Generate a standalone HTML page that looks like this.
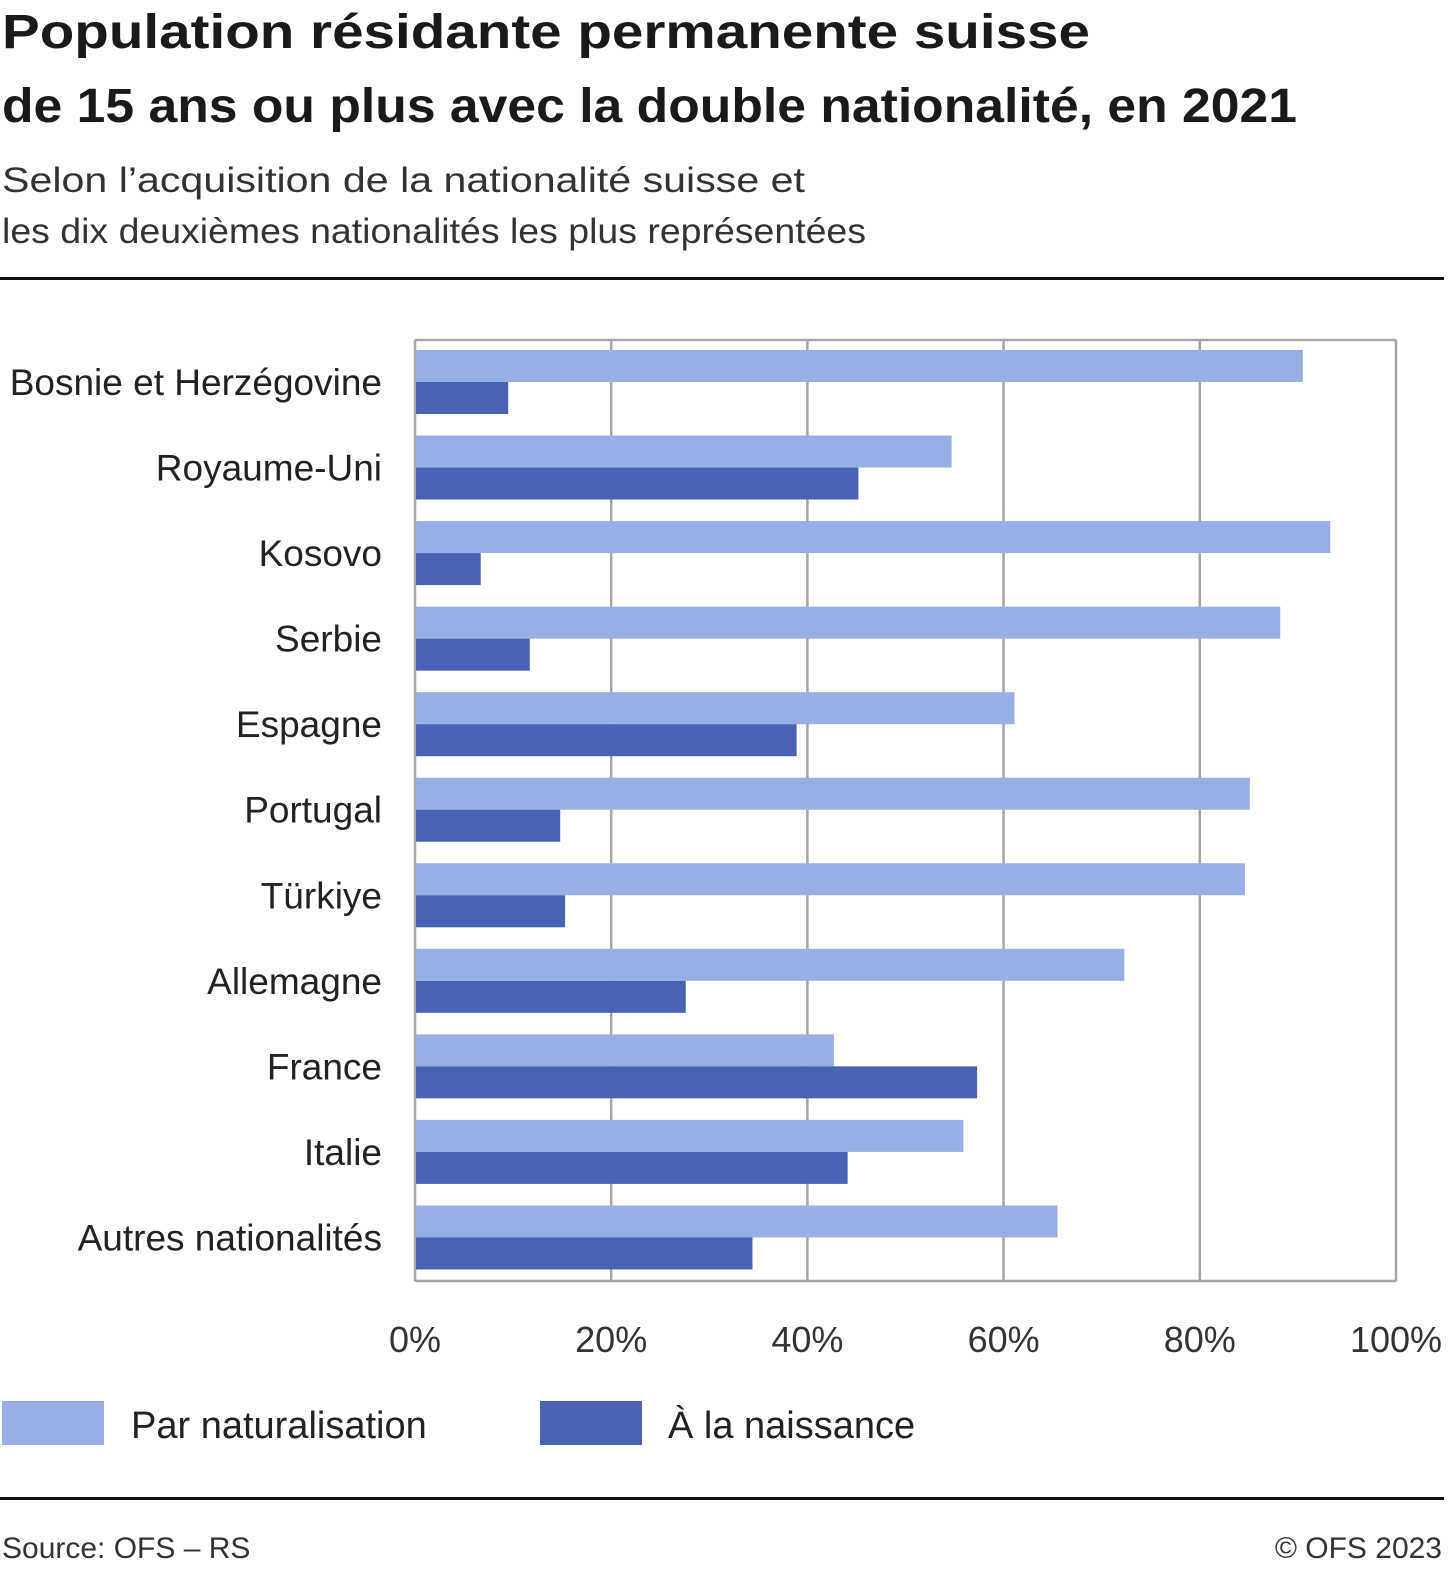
<!DOCTYPE html>
<html><head><meta charset="utf-8"><style>
html,body{margin:0;padding:0;background:#fff;overflow:hidden;width:1456px;height:1581px;}
svg{display:block;font-family:"Liberation Sans",sans-serif;}
</style></head><body>
<svg id="chart" width="1456" height="1581" viewBox="0 0 1456 1581">
<text x="2" y="48" font-size="48" font-weight="bold" fill="#1a1a1a" textLength="1088" lengthAdjust="spacingAndGlyphs">Population résidante permanente suisse</text>
<text x="2" y="122" font-size="48" font-weight="bold" fill="#1a1a1a" textLength="1295" lengthAdjust="spacingAndGlyphs">de 15 ans ou plus avec la double nationalité, en 2021</text>
<text x="2" y="192" font-size="35" fill="#333" textLength="803" lengthAdjust="spacingAndGlyphs">Selon l’acquisition de la nationalité suisse et</text>
<text x="2" y="243" font-size="35" fill="#333" textLength="864" lengthAdjust="spacingAndGlyphs">les dix deuxièmes nationalités les plus représentées</text>
<rect x="0" y="277" width="1444" height="3" fill="#111"/>
<g id="grid"></g>
<g id="bars"></g>
<g id="labels"></g>
<g id="ticks"></g>
<rect x="2" y="1401" width="102" height="44" fill="#9aaee6"/>
<text x="131" y="1438" font-size="38" fill="#222">Par naturalisation</text>
<rect x="540" y="1401" width="102" height="44" fill="#4a62b4"/>
<text x="668" y="1438" font-size="38" fill="#222">À la naissance</text>
<rect x="0" y="1497" width="1444" height="3" fill="#111"/>
<text x="2" y="1558" font-size="30" fill="#333">Source: OFS – RS</text>
<text x="1442" y="1558" font-size="30" fill="#333" text-anchor="end">© OFS 2023</text>
</svg>
<script>
const categories=["Bosnie et Herzégovine","Royaume-Uni","Kosovo","Serbie","Espagne","Portugal","Türkiye","Allemagne","France","Italie","Autres nationalités"];
const naturalisation=[90.5,54.7,93.3,88.2,61.1,85.1,84.6,72.3,42.7,55.9,65.5];
const naissance=[9.5,45.2,6.7,11.7,38.9,14.8,15.3,27.6,57.3,44.1,34.4];
const tickValues=[0,20,40,60,80,100];
const tickLabels=["0%","20%","40%","60%","80%","100%"];
const NS="http://www.w3.org/2000/svg";
const PX0=415,PX1=1396,PY0=340,PY1=1281;
const xScale=v=>PX0+(PX1-PX0)*v/100;
const bandH=(PY1-PY0)/categories.length;
const yBand=i=>PY0+bandH*i;
function mk(tag,attrs,parent){const e=document.createElementNS(NS,tag);for(const k in attrs)e.setAttribute(k,attrs[k]);parent.appendChild(e);return e;}
const gGrid=document.getElementById('grid'),gBars=document.getElementById('bars'),gLabels=document.getElementById('labels'),gTicks=document.getElementById('ticks');
tickValues.forEach((t,i)=>{
  const l=mk('line',{x1:xScale(t),x2:xScale(t),y1:PY0,y2:PY1,stroke:'#a6a6a6','stroke-width':2.5},gGrid);
  
  
  const tx=mk('text',{x:xScale(t),y:1352,'font-size':36,fill:'#333','text-anchor':'middle'},gTicks);
  tx.textContent=tickLabels[i];
  
  
});
const frameTop=mk('line',{x1:PX0,x2:PX1,y1:PY0,y2:PY0,stroke:'#a6a6a6','stroke-width':2.5},gGrid);


const axisBottom=mk('line',{x1:PX0,x2:PX1,y1:PY1,y2:PY1,stroke:'#a6a6a6','stroke-width':2.5},gGrid);


categories.forEach((c,i)=>{
  const b1=mk('rect',{x:PX0+1,y:yBand(i)+10,width:xScale(naturalisation[i])-PX0-1,height:32,fill:'#9aaee6'},gBars);
  
  
  const b2=mk('rect',{x:PX0+1,y:yBand(i)+42,width:xScale(naissance[i])-PX0-1,height:32,fill:'#4a62b4'},gBars);
  
  
  const t=mk('text',{x:382,y:yBand(i)+55,'font-size':37,fill:'#222','text-anchor':'end'},gLabels);
  t.textContent=c;
  
  
});
</script>
</body></html>
